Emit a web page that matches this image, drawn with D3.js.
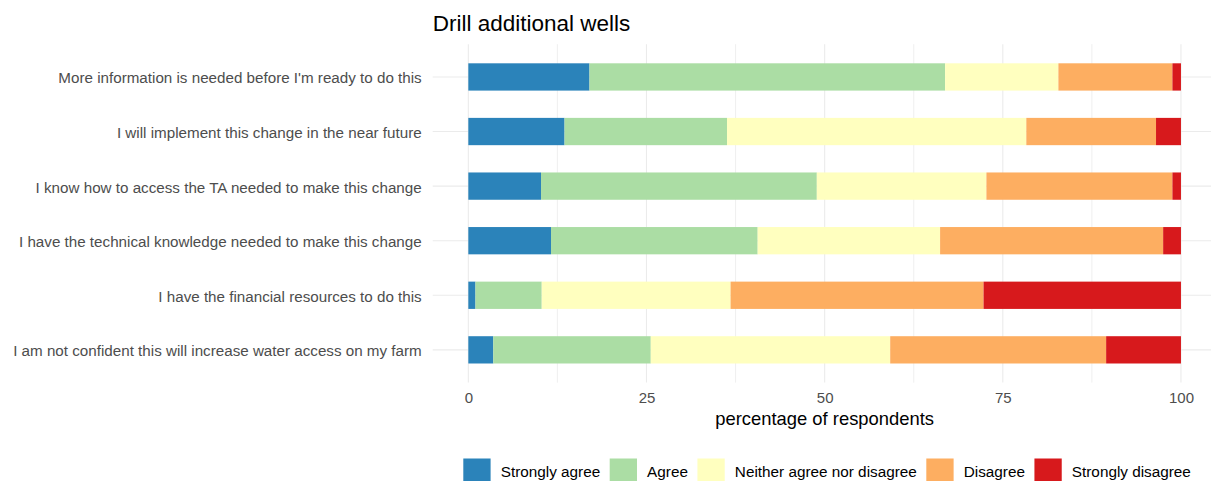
<!DOCTYPE html>
<html>
<head>
<meta charset="utf-8">
<script src="https://cdn.jsdelivr.net/npm/d3@7"></script>
<style>
  html, body { margin: 0; padding: 0; background: #fff; }
  svg { display: block; font-family: "Liberation Sans", Arial, sans-serif; }
</style>
</head>
<body>
<svg id="chart" width="1211" height="481"></svg>
<script>
const title = "Drill additional wells";
const xTitle = "percentage of respondents";
const categories = [
  "More information is needed before I'm ready to do this",
  "I will implement this change in the near future",
  "I know how to access the TA needed to make this change",
  "I have the technical knowledge needed to make this change",
  "I have the financial resources to do this",
  "I am not confident this will increase water access on my farm"
];
const responses = ["Strongly agree", "Agree", "Neither agree nor disagree", "Disagree", "Strongly disagree"];
const colors = ["#2b83ba", "#abdda4", "#ffffbf", "#fdae61", "#d7191c"];
const stronglyAgree   = [17.0, 13.5, 10.2, 11.6,  1.0,  3.5];
const agree           = [49.9, 22.8, 38.7, 29.0,  9.3, 22.1];
const neither         = [15.9, 42.0, 23.8, 25.6, 26.5, 33.6];
const disagree        = [16.0, 18.2, 26.1, 31.3, 35.5, 30.3];
const stronglyDisagree= [ 1.2,  3.5,  1.2,  2.5, 27.7, 10.5];
const xTicks = [0, 25, 50, 75, 100];
const xMinor = [12.5, 37.5, 62.5, 87.5];

const seriesValues = [stronglyAgree, agree, neither, disagree, stronglyDisagree];
const table = categories.map((c, i) => {
  const row = { category: c };
  responses.forEach((r, j) => row[r] = seriesValues[j][i]);
  return row;
});

const svg = d3.select("#chart");
const panel = { left: 432.7, right: 1216.6, top: 44.2, bottom: 382.6 };

const x = d3.scaleLinear().domain([-5, 105]).range([panel.left, panel.right]);
const y = d3.scaleBand().domain(categories).range([panel.top, panel.bottom])
  .paddingInner(0.5).paddingOuter(0.35);

// grid
const grid = svg.append("g");
grid.selectAll("line.minor").data(xMinor).join("line")
  .attr("x1", d => x(d)).attr("x2", d => x(d))
  .attr("y1", panel.top).attr("y2", panel.bottom)
  .attr("stroke", "#ebebeb").attr("stroke-width", 0.8);
grid.selectAll("line.major").data(xTicks).join("line")
  .attr("x1", d => x(d)).attr("x2", d => x(d))
  .attr("y1", panel.top).attr("y2", panel.bottom)
  .attr("stroke", "#ebebeb").attr("stroke-width", 1.1);
grid.selectAll("line.h").data(categories).join("line")
  .attr("x1", panel.left).attr("x2", panel.right)
  .attr("y1", d => y(d) + y.bandwidth() / 2).attr("y2", d => y(d) + y.bandwidth() / 2)
  .attr("stroke", "#ebebeb").attr("stroke-width", 1.1);

// bars
const stack = d3.stack().keys(responses)(table);
svg.append("g").selectAll("g").data(stack).join("g")
  .attr("fill", (d, i) => colors[i])
  .selectAll("rect").data(d => d).join("rect")
  .attr("x", d => x(d[0]))
  .attr("width", d => x(d[1]) - x(d[0]))
  .attr("y", d => y(d.data.category))
  .attr("height", y.bandwidth());

// x axis
const xAxis = svg.append("g")
  .attr("transform", `translate(0,${panel.bottom})`)
  .call(d3.axisBottom(x).tickValues(xTicks).tickSize(0).tickPadding(10).tickFormat(d3.format("d")));
xAxis.select(".domain").remove();
xAxis.selectAll("text").attr("font-size", "15px").attr("fill", "#4d4d4d")
  .attr("font-family", "Liberation Sans, Arial, sans-serif");

// y axis
const yAxis = svg.append("g")
  .attr("transform", `translate(${panel.left},0)`)
  .call(d3.axisLeft(y).tickSize(0).tickPadding(11));
yAxis.select(".domain").remove();
yAxis.selectAll("text").attr("font-size", "15.2px").attr("fill", "#4d4d4d")
  .attr("dy", "0.42em")
  .attr("font-family", "Liberation Sans, Arial, sans-serif");

// title
svg.append("text").attr("x", panel.left).attr("y", 31)
  .attr("font-size", "22.5px").attr("fill", "#000").text(title);

// x title
svg.append("text").attr("x", (panel.left + panel.right) / 2).attr("y", 425)
  .attr("text-anchor", "middle").attr("font-size", "18.4px").attr("fill", "#000").text(xTitle);

// legend
const lg = svg.append("g");
const items = lg.selectAll("g").data(responses).join("g");
let cx = 463.3;
items.each(function(d, i) {
  const g = d3.select(this);
  g.append("rect").attr("x", cx).attr("y", 458.5).attr("width", 27.3).attr("height", 27.3)
    .attr("fill", colors[i]);
  const t = g.append("text").attr("x", cx + 37.4).attr("y", 477)
    .attr("font-size", "15.3px").attr("fill", "#000").text(d);
  const w = t.node().getComputedTextLength();
  cx = cx + 37.4 + w + 9.5;
});
</script>
</body>
</html>
